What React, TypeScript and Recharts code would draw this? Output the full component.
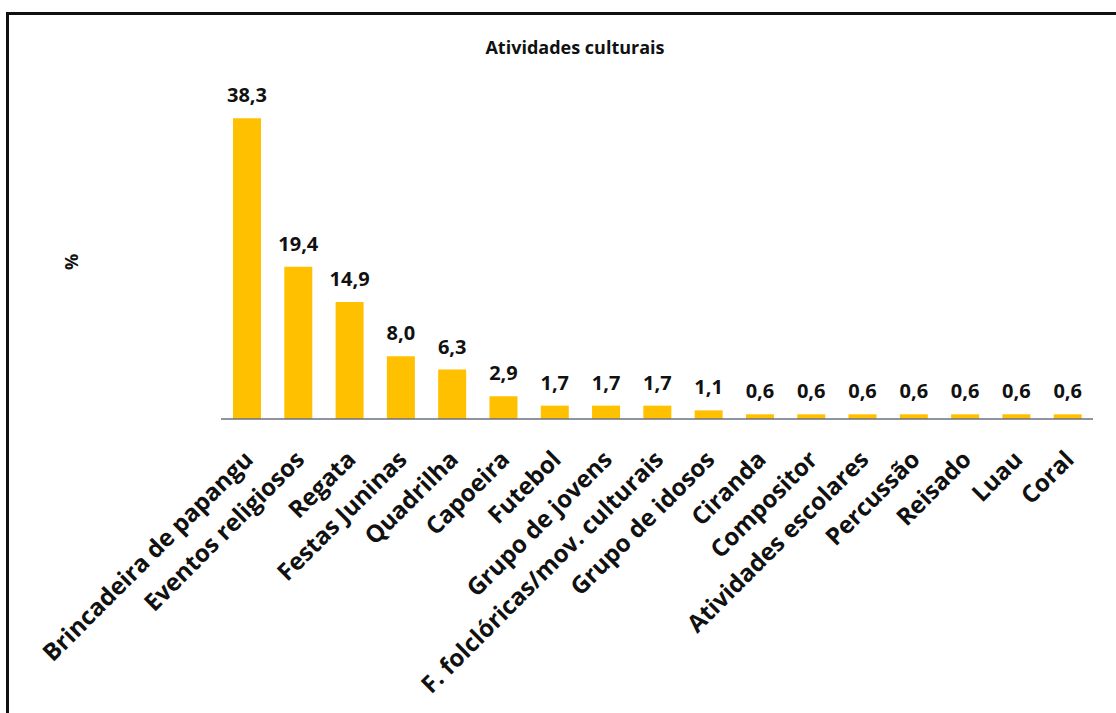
import { BarChart, Bar, XAxis, YAxis, LabelList } from "recharts"

const categories = [
  "Brincadeira de papangu",
  "Eventos religiosos",
  "Regata",
  "Festas Juninas",
  "Quadrilha",
  "Capoeira",
  "Futebol",
  "Grupo de jovens",
  "F. folclóricas/mov. culturais",
  "Grupo de idosos",
  "Ciranda",
  "Compositor",
  "Atividades escolares",
  "Percussão",
  "Reisado",
  "Luau",
  "Coral",
]

const percentages = [38.3, 19.4, 14.9, 8.0, 6.3, 2.9, 1.7, 1.7, 1.7, 1.1, 0.6, 0.6, 0.6, 0.6, 0.6, 0.6, 0.6]

const data = categories.map((name, i) => ({ name, value: percentages[i] }))

const FONT = "'Open Sans', sans-serif"

function RotatedTick(props: any) {
  const { x, y, payload } = props
  return (
    <g transform={`translate(${x + 8},${y + 34})`}>
      <text
        x={0}
        y={0}
        textAnchor="end"
        transform="rotate(-45)"
        fontFamily={FONT}
        fontWeight={700}
        fontSize={24}
        fill="#111"
      >
        {payload.value}
      </text>
    </g>
  )
}

const formatValue = (v: any) => Number(v).toFixed(1).replace(".", ",")

export default function App() {
  return (
    <div style={{ position: "absolute", left: 0, top: 0, width: 1116, height: 713, background: "#fff", overflow: "hidden" }}>
      {/* frame: only top and left edges are visible */}
      <div
        style={{
          position: "absolute",
          left: 6,
          top: 12,
          width: 1200,
          height: 800,
          borderTop: "3px solid #111",
          borderLeft: "3px solid #111",
        }}
      />
      <div
        style={{
          position: "absolute",
          left: 0,
          top: 35,
          width: 1150,
          textAlign: "center",
          fontFamily: FONT,
          fontWeight: 700,
          fontSize: 18,
          color: "#111",
        }}
      >
        Atividades culturais
      </div>
      <div style={{ position: "absolute", left: 0, top: 0 }}>
        <BarChart width={1116} height={713} data={data} margin={{ top: 105, right: 23, bottom: 0, left: 0 }}>
          <YAxis
            domain={[0, 40]}
            width={221}
            tick={false}
            axisLine={false}
            tickLine={false}
            label={{
              content: () => (
                <text
                  x={78}
                  y={262}
                  transform="rotate(-90 78 262)"
                  textAnchor="middle"
                  fontFamily={FONT}
                  fontWeight={700}
                  fontSize={18}
                  fill="#111"
                >
                  %
                </text>
              ),
            }}
          />
          <XAxis
            dataKey="name"
            interval={0}
            height={294}
            tickLine={false}
            axisLine={{ stroke: "#6b7080", strokeWidth: 1.5 }}
            tick={<RotatedTick />}
          />
          <Bar dataKey="value" fill="#FFC000" barSize={28} isAnimationActive={false}>
            <LabelList
              dataKey="value"
              position="top"
              offset={16}
              formatter={formatValue}
              fontFamily={FONT}
              fontWeight={700}
              fontSize={20}
              fill="#111"
            />
          </Bar>
        </BarChart>
      </div>
    </div>
  )
}
